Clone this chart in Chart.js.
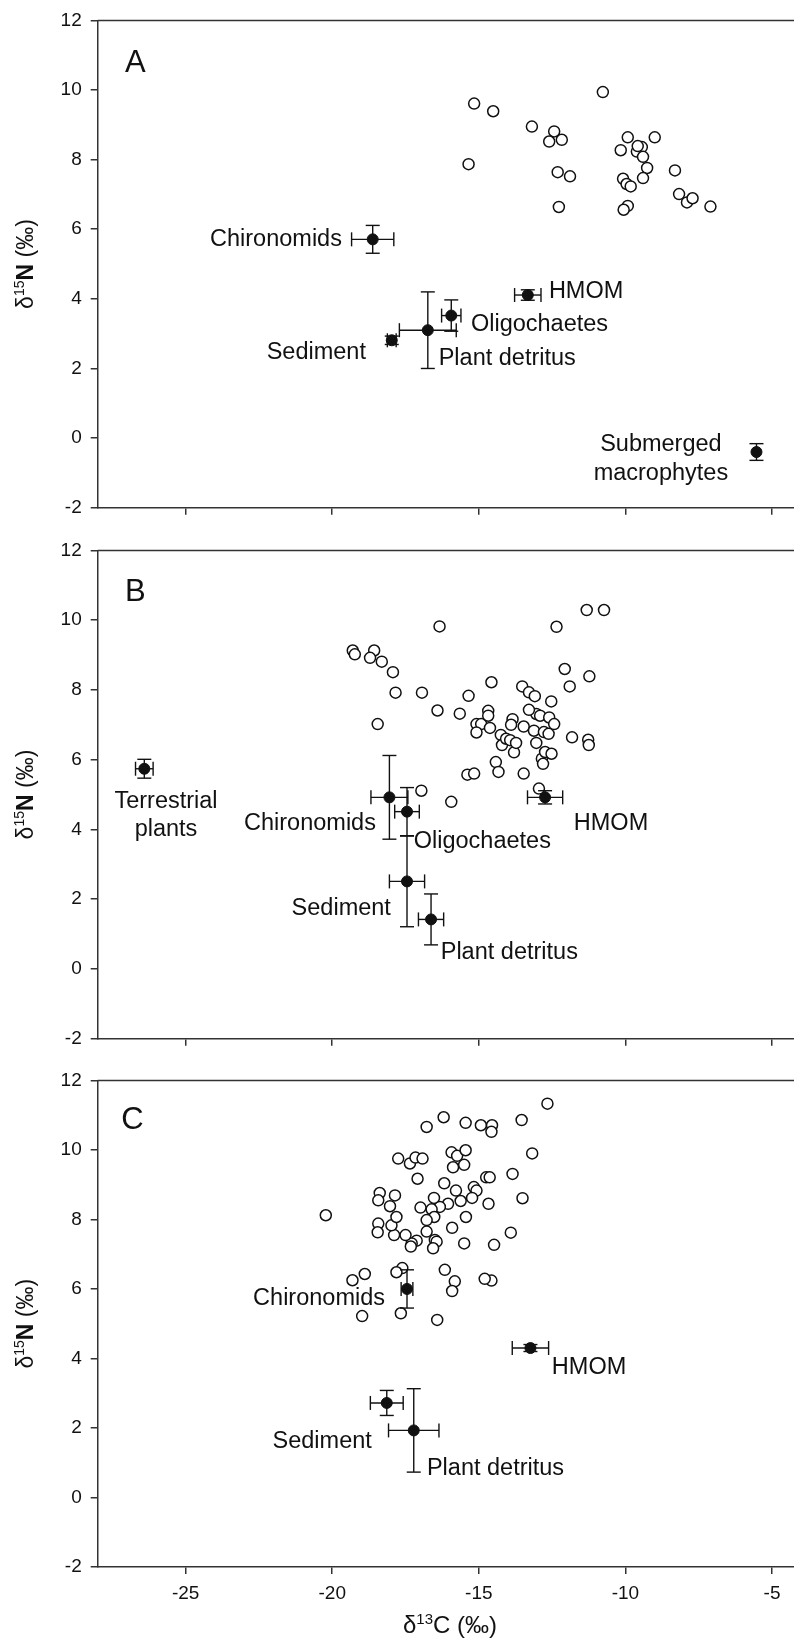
<!DOCTYPE html>
<html>
<head>
<meta charset="utf-8">
<script src="https://cdn.jsdelivr.net/npm/chart.js@4.4.1/dist/chart.umd.min.js"></script>
<style>
  html, body { margin: 0; padding: 0; background: #fff; overflow: hidden; }
  body { width: 794px; height: 1644px; position: relative; }
  .panel { position: absolute; left: 0; width: 794px; }
</style>
</head>
<body>
<div class="panel" style="top:0;height:530px"><canvas id="chartA"></canvas></div>
<div class="panel" style="top:530px;height:530px"><canvas id="chartB"></canvas></div>
<div class="panel" style="top:1060px;height:584px"><canvas id="chartC"></canvas></div>
<script>
// Stable isotope biplot, three panels (A, B, C)
// open circles = consumers, filled circles = sources (mean +/- SD)

const xTicks = [-25, -20, -15, -10, -5];
const yTicks = [-2, 0, 2, 4, 6, 8, 10, 12];

// --- Panel A ---
const consumersAX = [-15.16, -14.51, -10.77, -15.35, -13.19, -12.43, -12.6, -12.17, -12.31, -11.89, -12.27, -9.92, -10.16, -9.61, -9.44, -9.58, -9.40, -9.26, -9.40, -10.08, -9.96, -9.82, -9.92, -10.06, -9.00, -8.31, -8.17, -7.90, -7.71, -7.10];
const consumersAY = [9.61, 9.39, 9.94, 7.87, 8.95, 8.81, 8.52, 8.57, 7.64, 7.52, 6.64, 8.64, 8.27, 8.23, 8.36, 8.39, 8.08, 7.76, 7.47, 7.45, 7.30, 7.23, 6.67, 6.56, 8.64, 7.69, 7.01, 6.77, 6.89, 6.65];
const sourcesAX = [-18.62, -13.33, -15.94, -16.74, -17.97, -5.53];
const sourcesAY = [5.71, 4.11, 3.52, 3.10, 2.81, -0.40];
const sourcesAXErr = [0.72, 0.45, 0.33, 0.97, 0.15, 0];
const sourcesAYErr = [0.40, 0.15, 0.45, 1.10, 0.12, 0.24];

// --- Panel B ---
const consumersBX = [-19.30, -19.23, -18.57, -18.71, -18.31, -17.93, -17.84, -18.45, -16.94, -16.34, -16.41, -16.96, -15.94, -15.65, -15.35, -15.39, -15.16,
  -14.57, -13.52, -13.29, -13.09, -12.53, -12.07, -11.90, -11.23, -11.32, -10.73, -12.35,
  -15.08, -14.92, -15.08, -14.68, -14.68, -14.62, -14.42, -14.33, -14.25, -14.21, -14.07, -13.85, -13.90, -13.93, -13.80, -13.73, -13.47, -13.47,
  -13.12, -13.04, -13.29, -13.04, -12.91, -12.78, -12.85, -12.81, -12.74, -12.62, -12.60, -12.52, -12.43, -12.95, -11.82, -11.27, -11.25];
const consumersBY = [9.13, 9.02, 9.13, 8.92, 8.81, 8.51, 7.92, 7.02, 7.92, 9.82, 7.41, 5.11, 4.79, 7.32, 7.83, 5.57, 5.60,
  8.22, 8.10, 7.93, 7.82, 7.67, 8.60, 8.10, 8.39, 10.29, 10.29, 9.81,
  7.02, 7.02, 6.78, 7.40, 7.26, 6.91, 5.93, 5.65, 6.71, 6.42, 6.60, 7.16, 7.00, 6.56, 6.21, 6.48, 5.60, 6.95,
  6.83, 7.31, 7.43, 6.48, 7.26, 6.79, 6.03, 5.88, 6.22, 6.74, 7.21, 6.17, 7.02, 5.17, 6.64, 6.57, 6.42];
const sourcesBX = [-26.41, -18.05, -17.45, -17.45, -16.63, -12.74];
const sourcesBY = [5.74, 4.92, 4.51, 2.51, 1.42, 4.92];
const sourcesBXErr = [0.30, 0.63, 0.42, 0.60, 0.43, 0.60];
const sourcesBYErr = [0.27, 1.20, 0.69, 1.30, 0.73, 0.19];

// --- Panel C ---
const consumersCX = [-12.66, -13.54, -13.18, -13.85, -13.51, -13.91, -14.48, -14.57, -14.80, -14.75, -14.63, -14.67, -16.20, -16.78, -15.45, -14.93, -14.55, -14.57,
  -15.93, -15.74, -15.45, -15.88, -15.50, -17.75, -17.35, -17.16, -16.92, -17.09, -16.18, -15.78, -15.17, -15.08, -15.23, -15.62, -16.05, -16.33,
  -16.53, -16.61, -16.99, -16.52, -16.78, -15.44, -15.91, -15.50, -16.78, -16.50, -16.44, -16.56, -17.12, -17.29, -17.32, -17.50, -17.89, -17.98,
  -17.81, -18.03, -17.86, -18.38, -18.43, -18.43, -18.45, -20.22, -18.89, -19.31, -17.61, -17.81, -18.98, -17.66, -16.42, -16.16, -15.82, -15.91];
const consumersCY = [11.33, 10.86, 9.90, 9.31, 8.61, 7.62, 7.27, 6.24, 6.29, 9.21, 9.21, 8.45, 10.94, 10.66, 10.78, 10.71, 10.71, 10.52,
  9.93, 9.83, 9.99, 9.50, 9.57, 9.75, 9.61, 9.78, 9.75, 9.17, 9.04, 8.83, 8.93, 8.83, 8.62, 8.53, 8.45, 8.36,
  8.62, 8.29, 8.34, 8.07, 7.98, 8.07, 7.76, 7.31, 7.65, 7.41, 7.36, 7.17, 7.39, 7.31, 7.22, 7.55, 7.55, 7.83,
  8.07, 8.38, 8.69, 8.76, 8.55, 7.88, 7.63, 8.12, 6.43, 6.25, 6.60, 6.48, 5.22, 5.30, 5.11, 6.55, 6.22, 5.94];
const sourcesCX = [-17.45, -13.24, -18.14, -17.22];
const sourcesCY = [6.00, 4.30, 2.72, 1.93];
const sourcesCXErr = [0.20, 0.62, 0.56, 0.86];
const sourcesCYErr = [0.55, 0.10, 0.36, 1.20];

const FONT = "'Liberation Sans', Arial, Helvetica, sans-serif";
const INK = '#111';
const AXIS = '#333';

function makePanel(id, p) {
  const consumers = p.cx.map((v, i) => ({ x: v, y: p.cy[i] }));
  const sources = p.sx.map((v, i) => ({ x: v, y: p.sy[i] }));

  const overlay = {
    id: 'overlay',
    afterDatasetsDraw(chart) {
      const { ctx, scales: { x, y } } = chart;
      const cap = 7;
      ctx.save();
      ctx.strokeStyle = INK;
      ctx.lineWidth = 1.4;
      const seg = (x0, y0, x1, y1) => { ctx.beginPath(); ctx.moveTo(x0, y0); ctx.lineTo(x1, y1); ctx.stroke(); };
      p.sx.forEach((v, i) => {
        const px = x.getPixelForValue(v);
        const py = y.getPixelForValue(p.sy[i]);
        if (p.sxe[i] > 0) {
          const a = x.getPixelForValue(v - p.sxe[i]);
          const b = x.getPixelForValue(v + p.sxe[i]);
          seg(a, py, b, py); seg(a, py - cap, a, py + cap); seg(b, py - cap, b, py + cap);
        }
        if (p.sye[i] > 0) {
          const a = y.getPixelForValue(p.sy[i] - p.sye[i]);
          const b = y.getPixelForValue(p.sy[i] + p.sye[i]);
          seg(px, a, px, b); seg(px - cap, a, px + cap, a); seg(px - cap, b, px + cap, b);
        }
      });
      ctx.restore();
    },
    afterDraw(chart) {
      const { ctx, chartArea: area, scales: { x, y } } = chart;
      ctx.save();
      // top frame line
      ctx.strokeStyle = AXIS;
      ctx.lineWidth = 1.5;
      ctx.beginPath();
      ctx.moveTo(area.left, area.top);
      ctx.lineTo(area.right, area.top);
      ctx.stroke();

      // source labels
      ctx.fillStyle = INK;
      ctx.textBaseline = 'middle';
      ctx.font = '23.5px ' + FONT;
      p.labels.forEach(l => {
        ctx.textAlign = l.align;
        ctx.fillText(l.text, x.getPixelForValue(l.x), y.getPixelForValue(l.y));
      });

      // panel letter
      ctx.font = '31px ' + FONT;
      ctx.textAlign = 'left';
      ctx.fillText(p.letter, x.getPixelForValue(p.letterPos[0]), y.getPixelForValue(p.letterPos[1]));

      // y axis title, rotated
      ctx.save();
      ctx.translate(25, (area.top + area.bottom) / 2);
      ctx.rotate(-Math.PI / 2);
      drawIsoLabel(ctx, '15', 'N', true, 0, 0, 23);
      ctx.restore();

      // x axis title on the bottom panel only
      if (p.xTitle) {
        drawIsoLabel(ctx, '13', 'C', false, 450 - 0, area.bottom + 58, 24);
      }
      ctx.restore();
    }
  };

  new Chart(document.getElementById(id), {
    type: 'scatter',
    data: {
      datasets: [
        { data: consumers, pointRadius: 5.5, pointHoverRadius: 5.5, borderColor: INK, backgroundColor: '#fff', borderWidth: 1.5 },
        { data: sources, pointRadius: 5.5, pointHoverRadius: 5.5, borderColor: INK, backgroundColor: INK, borderWidth: 1 },
      ],
    },
    options: {
      responsive: true,
      maintainAspectRatio: false,
      animation: false,
      events: [],
      layout: { autoPadding: false, padding: { top: p.padTop, left: 0, right: 0, bottom: 0 } },
      plugins: { legend: { display: false }, tooltip: { enabled: false } },
      scales: {
        x: {
          type: 'linear',
          min: -28,
          max: -4.25,
          afterBuildTicks: (s) => { s.ticks = xTicks.map((v) => ({ value: v })); },
          afterFit: (s) => { s.height = p.xHeight; s.paddingLeft = 0; s.paddingRight = 0; },
          grid: { drawOnChartArea: false, drawTicks: true, tickLength: 7, color: AXIS, lineWidth: 1.5 },
          border: { display: true, color: AXIS, width: 1.5 },
          ticks: { display: p.xTitle, color: INK, font: { family: FONT, size: 19 }, padding: 8, maxRotation: 0 },
        },
        y: {
          type: 'linear',
          min: -2,
          max: 12,
          afterBuildTicks: (s) => { s.ticks = yTicks.map((v) => ({ value: v })); },
          afterFit: (s) => { s.width = 97.7; },
          grid: { drawOnChartArea: false, drawTicks: true, tickLength: 7, color: AXIS, lineWidth: 1.5 },
          border: { display: true, color: AXIS, width: 1.5 },
          ticks: { color: INK, font: { family: FONT, size: 19 }, padding: 9 },
        },
      },
    },
    plugins: [overlay],
  });
}

// "δ15N (‰)" style title with superscript mass number, centered at (cx, cy)
function drawIsoLabel(ctx, mass, element, boldElement, cx, cy, size) {
  const small = Math.round(size * 0.62);
  const parts = [
    { t: '\u03b4', f: size + 'px ' + FONT, dy: 0 },
    { t: mass, f: small + 'px ' + FONT, dy: -size * 0.38 },
    { t: element, f: (boldElement ? 'bold ' : '') + size + 'px ' + FONT, dy: 0 },
    { t: ' (\u2030)', f: size + 'px ' + FONT, dy: 0 },
  ];
  let total = 0;
  parts.forEach((pt) => { ctx.font = pt.f; pt.w = ctx.measureText(pt.t).width; total += pt.w; });
  let cur = cx - total / 2;
  ctx.fillStyle = INK;
  ctx.textAlign = 'left';
  ctx.textBaseline = 'alphabetic';
  parts.forEach((pt) => {
    ctx.font = pt.f;
    ctx.fillText(pt.t, cur, cy + size * 0.35 + pt.dy);
    cur += pt.w;
  });
}

makePanel('chartA', {
  cx: consumersAX, cy: consumersAY,
  sx: sourcesAX, sy: sourcesAY, sxe: sourcesAXErr, sye: sourcesAYErr,
  padTop: 16, xHeight: 22.3, xTitle: false,
  letter: 'A', letterPos: [-27.07, 10.77],
  labels: [
    { text: 'Chironomids', x: -19.67, y: 5.70, align: 'right' },
    { text: 'HMOM', x: -12.61, y: 4.22, align: 'left' },
    { text: 'Oligochaetes', x: -15.27, y: 3.25, align: 'left' },
    { text: 'Sediment', x: -18.85, y: 2.46, align: 'right' },
    { text: 'Plant detritus', x: -16.37, y: 2.28, align: 'left' },
    { text: 'Submerged', x: -8.79, y: -0.19, align: 'center' },
    { text: 'macrophytes', x: -8.79, y: -1.02, align: 'center' },
  ],
});

makePanel('chartB', {
  cx: consumersBX, cy: consumersBY,
  sx: sourcesBX, sy: sourcesBY, sxe: sourcesBXErr, sye: sourcesBYErr,
  padTop: 17.3, xHeight: 21.3, xTitle: false,
  letter: 'B', letterPos: [-27.07, 10.78],
  labels: [
    { text: 'Terrestrial', x: -25.67, y: 4.80, align: 'center' },
    { text: 'plants', x: -25.67, y: 4.00, align: 'center' },
    { text: 'Chironomids', x: -18.51, y: 4.17, align: 'right' },
    { text: 'Oligochaetes', x: -17.22, y: 3.64, align: 'left' },
    { text: 'Sediment', x: -18.0, y: 1.72, align: 'right' },
    { text: 'Plant detritus', x: -16.30, y: 0.47, align: 'left' },
    { text: 'HMOM', x: -11.76, y: 4.17, align: 'left' },
  ],
});

makePanel('chartC', {
  cx: consumersCX, cy: consumersCY,
  sx: sourcesCX, sy: sourcesCY, sxe: sourcesCXErr, sye: sourcesCYErr,
  padTop: 15.5, xHeight: 77, xTitle: true,
  letter: 'C', letterPos: [-27.2, 10.85],
  labels: [
    { text: 'Chironomids', x: -18.20, y: 5.73, align: 'right' },
    { text: 'HMOM', x: -12.51, y: 3.75, align: 'left' },
    { text: 'Sediment', x: -18.65, y: 1.62, align: 'right' },
    { text: 'Plant detritus', x: -16.77, y: 0.82, align: 'left' },
  ],
});
</script>
</body>
</html>
